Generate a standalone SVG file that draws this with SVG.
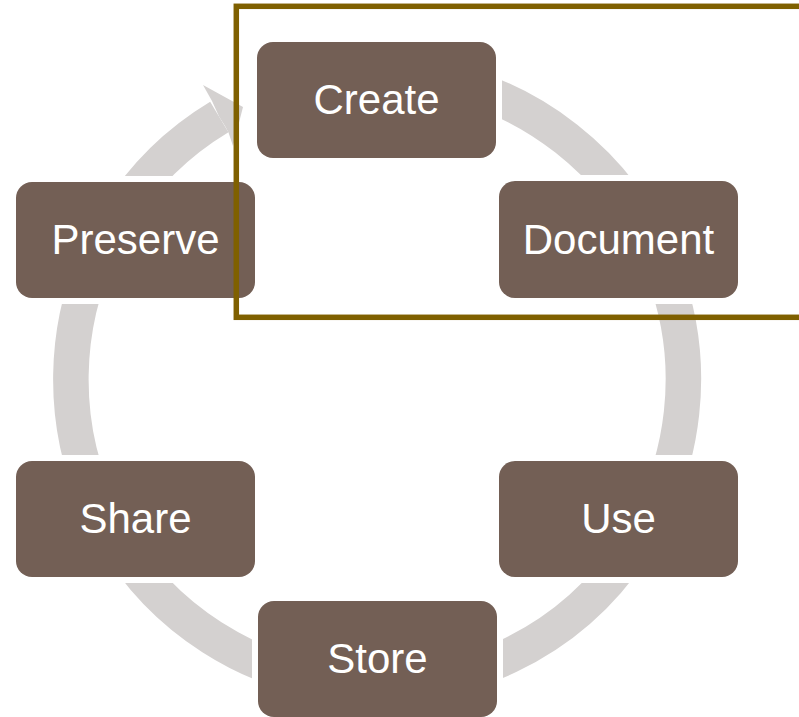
<svg xmlns="http://www.w3.org/2000/svg" width="799" height="717" viewBox="0 0 799 717">
  <style>
    .node rect { fill: #735F55; stroke: #FFFFFF; stroke-width: 12; paint-order: stroke; }
    .node text { fill: #FFFFFF; font-family: "Liberation Sans", Arial, sans-serif; font-size: 42px; text-anchor: middle; }
    .ring { fill: none; stroke: #D4D1D0; stroke-width: 35.5; }
    .head { fill: #D4D1D0; }
    .frame { fill: none; stroke: #7F6000; stroke-width: 5.5; }
  </style>
  <rect width="799" height="717" fill="#FFFFFF"/>
  <g id="connectors">
    <path class="ring" d="M 272.3 91.7 A 306.25 306.25 0 1 1 219.3 117.0"/>
    <polygon class="head" points="219.3,117.0 212.0,101.0 203,85 243,107 233,146 228.4,132.2 225.0,126.0"/>
  </g>
  <g id="node-create" class="node">
    <rect x="257" y="42" width="239" height="116" rx="16"/>
    <text x="376.5" y="114">Create</text>
  </g>
  <g id="node-document" class="node">
    <rect x="499" y="181" width="239" height="117" rx="16"/>
    <text x="618.5" y="253.5">Document</text>
  </g>
  <g id="node-use" class="node">
    <rect x="499" y="461" width="239" height="116" rx="16"/>
    <text x="618.5" y="533">Use</text>
  </g>
  <g id="node-store" class="node">
    <rect x="258" y="601" width="239" height="116" rx="16"/>
    <text x="377.5" y="673">Store</text>
  </g>
  <g id="node-share" class="node">
    <rect x="16" y="461" width="239" height="116" rx="16"/>
    <text x="135.5" y="533">Share</text>
  </g>
  <g id="node-preserve" class="node">
    <rect x="16" y="182" width="239" height="116" rx="16"/>
    <text x="135.5" y="254">Preserve</text>
  </g>
  <g id="highlight-frame">
    <rect class="frame" x="236.3" y="6.3" width="570" height="311"/>
  </g>
</svg>
